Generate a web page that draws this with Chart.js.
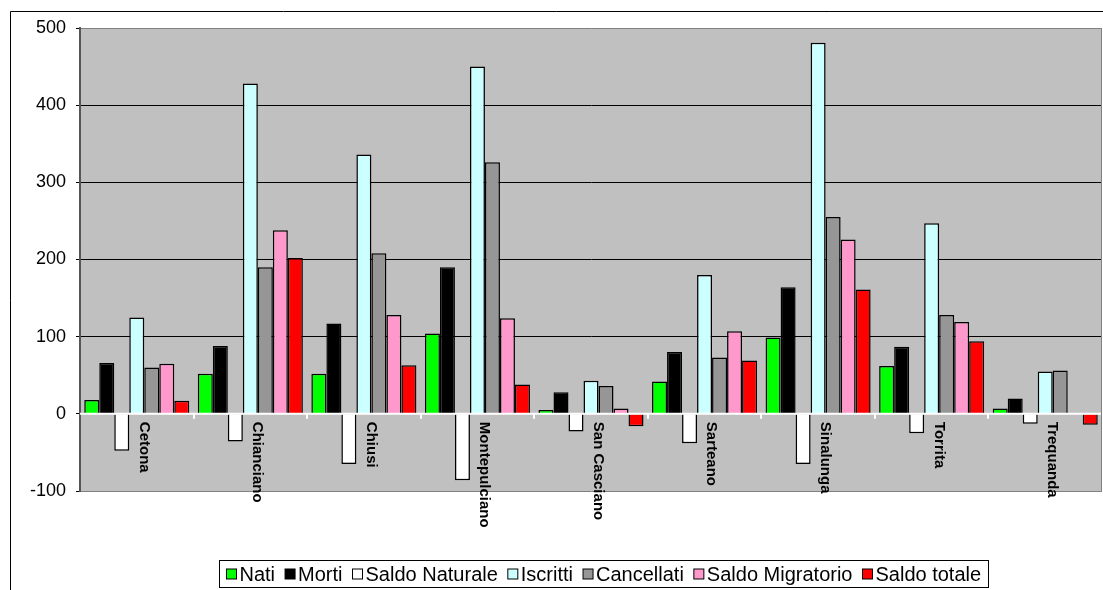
<!DOCTYPE html>
<html>
<head>
<meta charset="utf-8">
<script src="https://cdn.jsdelivr.net/npm/chart.js@4.4.0/dist/chart.umd.min.js"></script>
<style>
  html, body { margin: 0; padding: 0; background: #fff; }
</style>
</head>
<body>
<canvas id="myChart" width="1103" height="590"></canvas>
<script>
// Bilancio demografico per comune
const comuni = ['Cetona', 'Chianciano', 'Chiusi', 'Montepulciano', 'San Casciano', 'Sarteano', 'Sinalunga', 'Torrita', 'Trequanda'];
const nati = [18, 52, 52, 104, 5, 42, 99, 62, 7];
const morti = [66, 88, 117, 190, 28, 80, 164, 87, 20];
const saldoNaturale = [-48, -36, -65, -86, -23, -38, -65, -25, -13];
const iscritti = [125, 428, 336, 450, 43, 180, 481, 247, 55];
const cancellati = [60, 190, 208, 326, 36, 73, 255, 128, 56];
const saldoMigratorio = [65, 238, 128, 124, 7, 107, 226, 119, -1];
const saldoTotale = [17, 202, 63, 38, -16, 69, 161, 94, -14];
const yMin = -100;
const yMax = 500;
const yStep = 100;

const ctx = document.getElementById('myChart').getContext('2d');

// grey plot area + outer frame
const sfondo = {
  id: 'sfondo',
  beforeDraw(chart) {
    const { ctx, chartArea: a } = chart;
    ctx.save();
    ctx.fillStyle = '#fff';
    ctx.fillRect(0, 0, chart.width, chart.height);
    ctx.fillStyle = '#C0C0C0';
    ctx.fillRect(a.left, a.top, a.right - a.left, a.bottom - a.top);
    ctx.strokeStyle = '#000';
    ctx.lineWidth = 1;
    ctx.beginPath();
    ctx.moveTo(10.5, chart.height);
    ctx.lineTo(10.5, 11.5);
    ctx.lineTo(chart.width, 11.5);
    ctx.stroke();
    ctx.restore();
  },
};

// white category axis on zero, rotated labels, plot border, legend
const asse = {
  id: 'asse',
  afterDatasetsDraw(chart) {
    const { ctx, chartArea: a, scales } = chart;
    const y0 = scales.y.getPixelForValue(0);
    const step = scales.x.getPixelForValue(1) - scales.x.getPixelForValue(0);
    ctx.save();
    ctx.strokeStyle = '#fff';
    ctx.lineWidth = 2;
    ctx.beginPath();
    ctx.moveTo(a.left, y0);
    ctx.lineTo(a.right, y0);
    for (let i = 1; i < comuni.length; i++) {
      const bx = Math.round(scales.x.getPixelForValue(i) - step / 2);
      ctx.moveTo(bx, y0);
      ctx.lineTo(bx, y0 + 5);
    }
    ctx.stroke();
    ctx.strokeStyle = '#808080';
    ctx.lineWidth = 1;
    ctx.beginPath();
    ctx.moveTo(a.right - 0.5, a.top);
    ctx.lineTo(a.right - 0.5, a.bottom);
    ctx.stroke();
    ctx.restore();
  },
  afterDraw(chart) {
    const { ctx, scales } = chart;
    const y0 = scales.y.getPixelForValue(0);
    ctx.save();
    ctx.fillStyle = '#000';
    ctx.font = 'bold 15px "Liberation Sans", Arial, sans-serif';
    ctx.textAlign = 'left';
    ctx.textBaseline = 'middle';
    comuni.forEach((c, i) => {
      ctx.save();
      ctx.translate(scales.x.getPixelForValue(i) + 7, y0 + 8);
      ctx.rotate(Math.PI / 2);
      ctx.fillText(c, 0, 0);
      ctx.restore();
    });

    // legend
    const ds = chart.data.datasets;
    ctx.font = '20px "Liberation Sans", Arial, sans-serif';
    const box = 10;
    const gapIn = 3;
    const gapOut = 10;
    const padX = 7;
    let total = padX * 2 + gapOut * (ds.length - 1);
    ds.forEach(d => { total += box + gapIn + ctx.measureText(d.label).width; });
    const lx = Math.round(603 - total / 2) + 0.5;
    const ly = 560.5;
    const lh = 27;
    ctx.strokeStyle = '#000';
    ctx.lineWidth = 1;
    ctx.strokeRect(lx, ly, Math.round(total), lh);
    let x = lx + padX;
    const cy = ly + lh / 2;
    ds.forEach(d => {
      ctx.fillStyle = d.backgroundColor;
      ctx.fillRect(x, cy - box / 2, box, box);
      ctx.strokeRect(x, cy - box / 2, box, box);
      ctx.fillStyle = '#000';
      ctx.fillText(d.label, x + box + gapIn, cy + 1);
      x += box + gapIn + ctx.measureText(d.label).width + gapOut;
    });
    ctx.restore();
  },
};

const myChart = new Chart(ctx, {
  type: 'bar',
  data: {
    labels: comuni,
    datasets: [
      { label: 'Nati', data: nati, backgroundColor: '#00FF00' },
      { label: 'Morti', data: morti, backgroundColor: '#000000' },
      { label: 'Saldo Naturale', data: saldoNaturale, backgroundColor: '#FFFFFF' },
      { label: 'Iscritti', data: iscritti, backgroundColor: '#CCFFFF' },
      { label: 'Cancellati', data: cancellati, backgroundColor: '#969696' },
      { label: 'Saldo Migratorio', data: saldoMigratorio, backgroundColor: '#FF99CC' },
      { label: 'Saldo totale', data: saldoTotale, backgroundColor: '#FF0000' },
    ],
  },
  options: {
    responsive: false,
    animation: false,
    layout: { padding: { left: 10, top: 28, right: 1, bottom: 0 } },
    datasets: {
      bar: { categoryPercentage: 0.925, barPercentage: 1, borderWidth: 1.5, borderColor: '#000' },
    },
    plugins: {
      legend: { display: false },
      tooltip: { enabled: false },
    },
    scales: {
      x: {
        ticks: { display: false },
        grid: { display: false },
        border: { display: false },
        afterFit: s => { s.height = 99; },
      },
      y: {
        min: yMin,
        max: yMax,
        ticks: {
          stepSize: yStep,
          color: '#000',
          padding: 10,
          font: { family: '"Liberation Sans", Arial, sans-serif', size: 18 },
        },
        grid: {
          color: c => (c.tick.value === 0 ? 'rgba(0,0,0,0)' : (c.tick.value === yMax || c.tick.value === yMin ? '#808080' : '#000')),
          tickColor: '#000',
          tickLength: 4,
          lineWidth: 1,
        },
        border: { color: '#555', width: 2 },
        afterFit: s => { s.width = 70; },
      },
    },
  },
  plugins: [sfondo, asse],
});
</script>
</body>
</html>
